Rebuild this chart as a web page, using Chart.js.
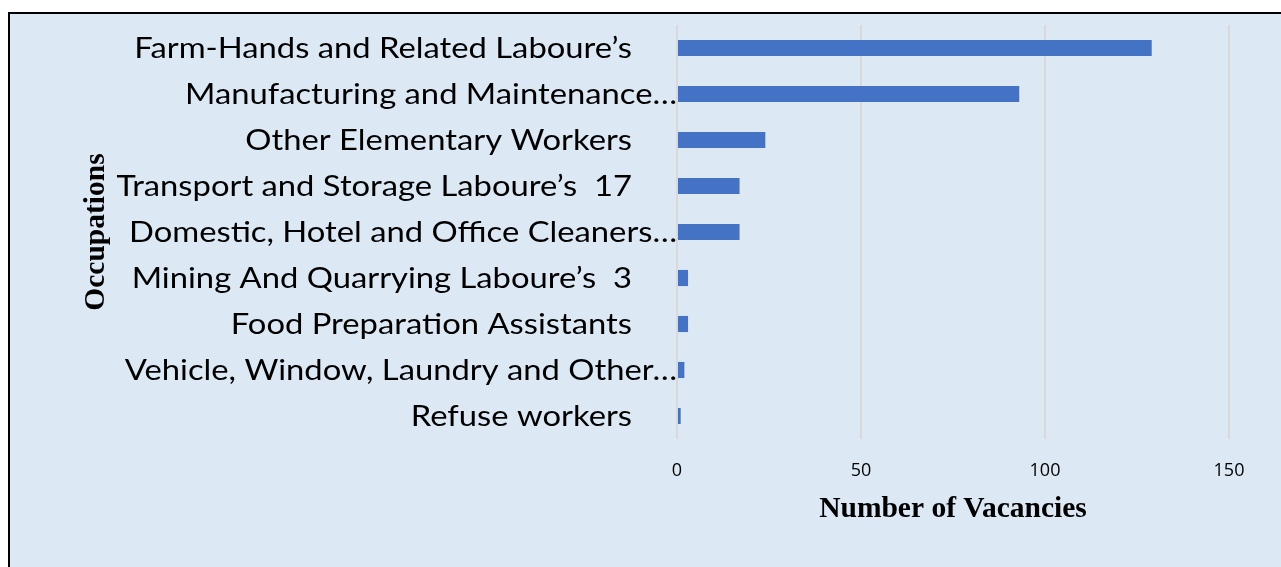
<!DOCTYPE html>
<html>
<head>
<meta charset="utf-8">
<script src="https://cdn.jsdelivr.net/npm/chart.js@4.4.1/dist/chart.umd.min.js"></script>
<style>
  html, body { margin: 0; padding: 0; background: #ffffff; }
  #frame {
    position: absolute; left: 8px; top: 12px;
    width: 1271px; height: 553px;
    border-top: 2px solid #000; border-left: 2px solid #000;
    background: #dde8f5;
  }
  #chart { display: block; }
</style>
</head>
<body>
<div id="frame"><canvas id="chart" width="1271" height="553"></canvas></div>
<script>
// Occupations (top to bottom as shown)
const occupations = [
  'Farm-Hands and Related Laboure\u2019s',
  'Manufacturing and Maintenance\u2026',
  'Other Elementary Workers',
  'Transport and Storage Laboure\u2019s  17',
  'Domestic, Hotel and Office Cleaners\u2026',
  'Mining And Quarrying Laboure\u2019s  3',
  'Food Preparation Assistants',
  'Vehicle, Window, Laundry and Other\u2026',
  'Refuse workers'
];
const vacancies = [129, 93, 24, 17, 17, 3, 3, 2, 1];
const xTicks = [0, 50, 100, 150];

const LABEL_FONT = '28px Lato, "Noto Sans", sans-serif';
const LABEL_STRETCH = 1.17; // wide geometric look of the original face

// category labels drawn next to the axis; truncated ones run up to the axis line
const categoryLabels = {
  id: 'categoryLabels',
  afterDraw(chart) {
    const ctx = chart.ctx;
    const y = chart.scales.y;
    const x0 = chart.scales.x.getPixelForValue(0);
    ctx.save();
    ctx.font = LABEL_FONT;
    ctx.fillStyle = '#000';
    ctx.textAlign = 'right';
    ctx.textBaseline = 'middle';
    occupations.forEach((lab, i) => {
      const gap = lab.endsWith('\u2026') ? 0 : 45;
      ctx.save();
      ctx.translate(x0 - gap, y.getPixelForValue(i) + 1);
      ctx.scale(LABEL_STRETCH, 1);
      ctx.fillText(lab, 0, 0);
      ctx.restore();
    });
    ctx.restore();
  }
};

new Chart(document.getElementById('chart'), {
  type: 'bar',
  data: {
    labels: occupations,
    datasets: [{
      data: vacancies,
      backgroundColor: '#4472c4',
      categoryPercentage: 1,
      barPercentage: 0.35
    }]
  },
  plugins: [categoryLabels],
  options: {
    indexAxis: 'y',
    responsive: false,
    animation: false,
    layout: { padding: { top: 11, right: 52, bottom: 0, left: 0 } },
    plugins: { legend: { display: false }, tooltip: { enabled: false } },
    scales: {
      x: {
        min: 0, max: 150,
        afterBuildTicks: s => { s.ticks = xTicks.map(v => ({ value: v })); },
        afterFit: s => { s.height = 128; },
        grid: { color: '#d9d9d9', lineWidth: 2, drawTicks: false },
        border: { display: false },
        ticks: { color: '#000', padding: 21, font: { family: '"Open Sans"', size: 18 } },
        title: {
          display: true, text: 'Number of Vacancies', color: '#000',
          font: { family: '"Liberation Serif"', size: 29.5, weight: 'bold' },
          padding: { top: 0, bottom: 40 }
        }
      },
      y: {
        afterFit: s => { s.width = 667; },
        grid: { display: false },
        border: { display: false },
        ticks: { display: false },
        title: {
          display: true, text: 'Occupations', color: '#000',
          font: { family: '"Liberation Serif"', size: 29.5, weight: 'bold' },
          padding: { top: 69, bottom: 0 }
        }
      }
    }
  }
});
</script>
</body>
</html>
